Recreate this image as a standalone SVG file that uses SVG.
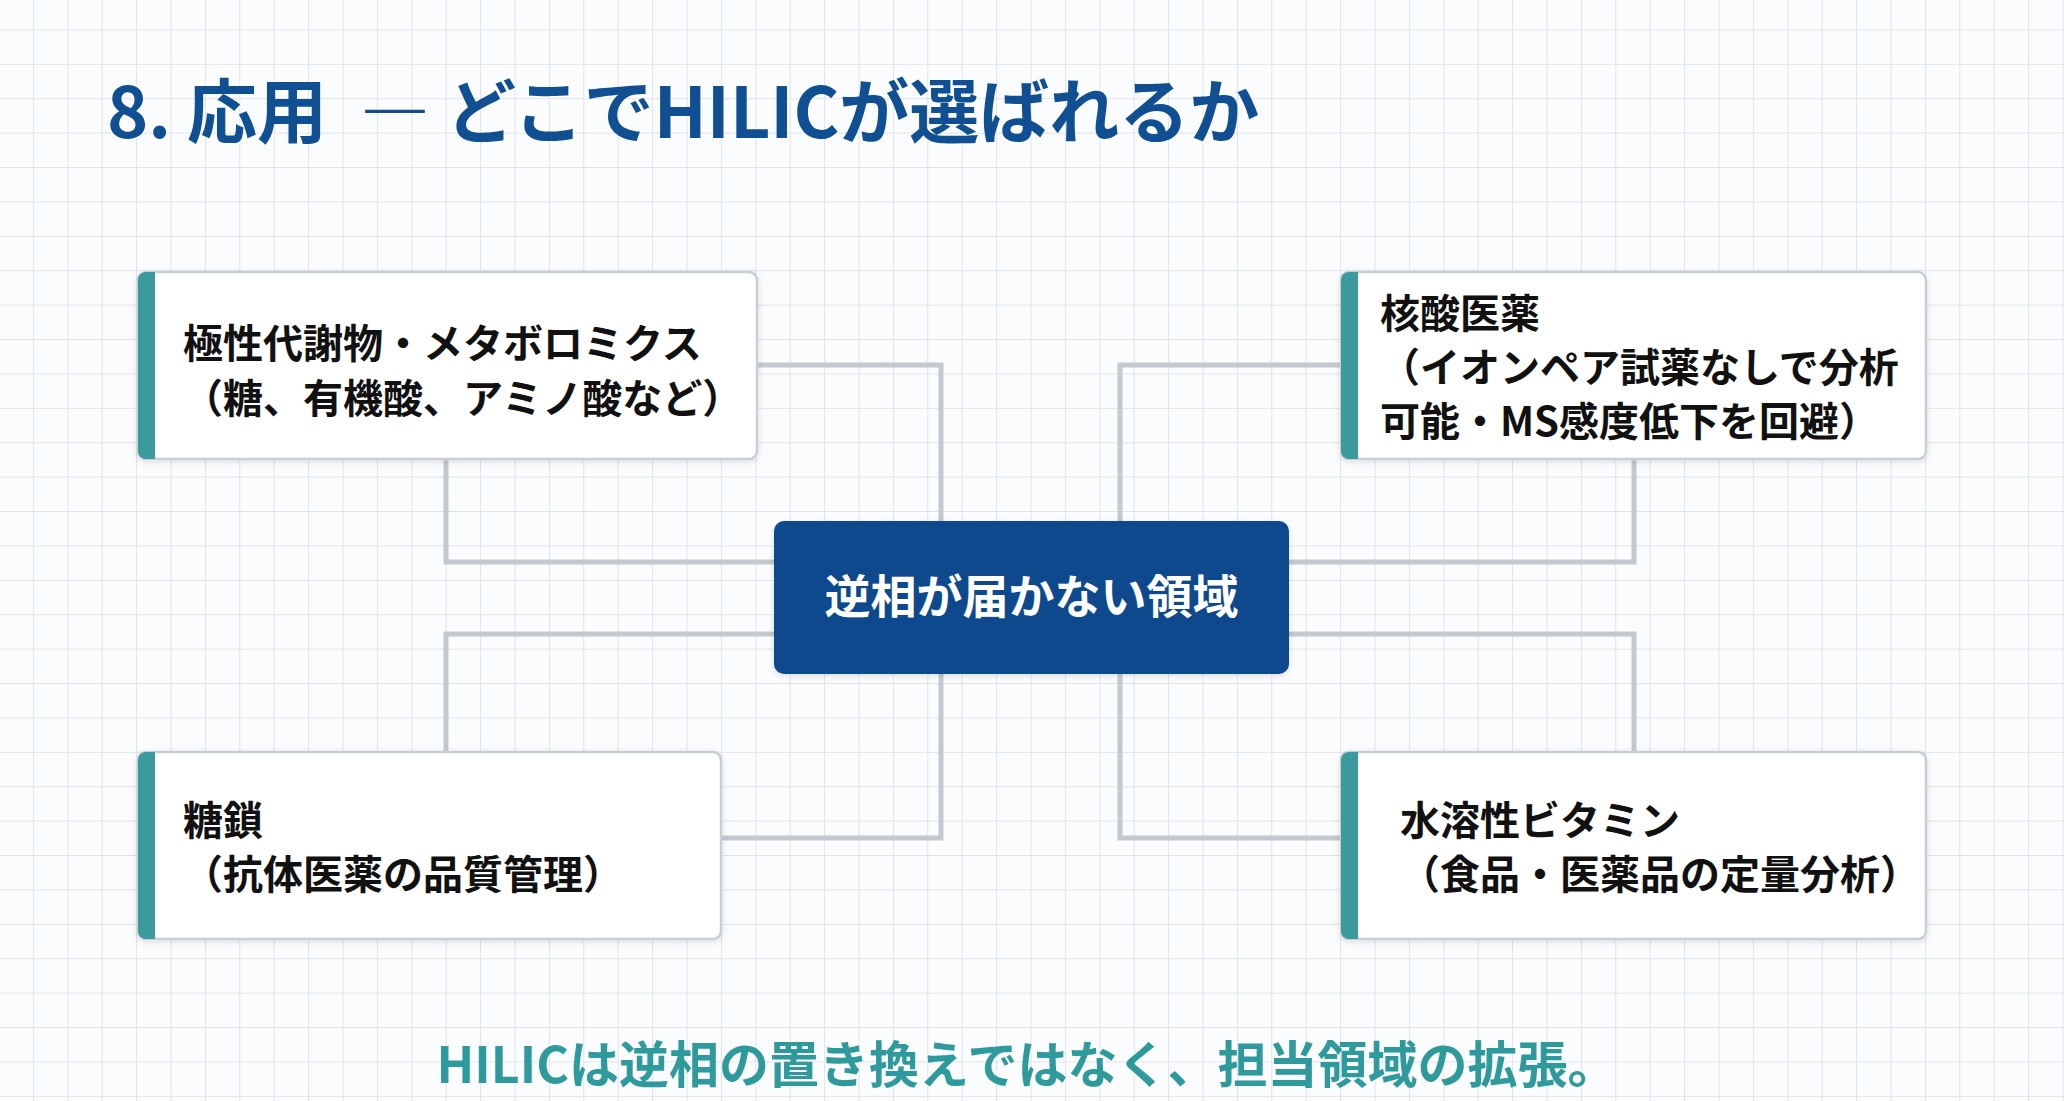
<svg xmlns="http://www.w3.org/2000/svg" width="2064" height="1101" viewBox="0 0 2064 1101">
<defs>
<pattern id="grid" x="-0.5" y="-4" width="34.4" height="34.4" patternUnits="userSpaceOnUse">
<path d="M34.4 0V34.4M0 34.4H34.4" fill="none" stroke="#dfe3e8" stroke-width="2"/>
</pattern>
<filter id="sh" x="-5%" y="-10%" width="110%" height="125%"><feDropShadow dx="0" dy="2" stdDeviation="3" flood-color="#000" flood-opacity="0.12"/></filter>
</defs>
<style>
.t{font-family:"Noto Sans CJK JP","Noto Sans",sans-serif;font-weight:700}
.box{fill:#fff;stroke:#c9ced4;stroke-width:2.5}
.bar{fill:#3a9a9c}
.lbl{font-size:40px;fill:#111}
.c{fill:none;stroke:#c3c9cf;stroke-width:5}
</style>
<rect width="2064" height="1101" fill="#fbfcfd"/>
<rect width="2064" height="1101" fill="url(#grid)"/>
<text class="t" x="107" y="138" font-size="70" fill="#0f4f92">8. 応用 <tspan x="360">― どこでHILICが選ばれるか</tspan></text>
<g id="connectors" class="c">
<path class="c" d="M757 365H941V521"/>
<path class="c" d="M446 459V562H774"/>
<path class="c" d="M1341 365H1120V521"/>
<path class="c" d="M1634 459V562H1289"/>
<path class="c" d="M774 634H446V752"/>
<path class="c" d="M721 838H941V674"/>
<path class="c" d="M1289 634H1634V752"/>
<path class="c" d="M1341 838H1120V674"/>
</g>
<g id="n1"><rect class="box" x="138" y="272" width="619" height="187" rx="8" filter="url(#sh)"/><path class="bar" d="M146 272h9v187h-9a8 8 0 0 1-8-8V280a8 8 0 0 1 8-8z"/>
<text class="t lbl" x="183" y="358">極性代謝物・メタボロミクス</text><text class="t lbl" x="183" y="413">（糖、有機酸、アミノ酸など）</text></g>
<g id="n2"><rect class="box" x="1341" y="272" width="585" height="187" rx="8" filter="url(#sh)"/><path class="bar" d="M1349 272h9v187h-9a8 8 0 0 1-8-8V280a8 8 0 0 1 8-8z"/>
<text class="t lbl" x="1380" y="328">核酸医薬</text><text class="t lbl" x="1380" y="382">（イオンペア試薬なしで分析</text><text class="t lbl" x="1380" y="436">可能・MS感度低下を回避）</text></g>
<g id="n3"><rect class="box" x="138" y="752" width="583" height="187" rx="8" filter="url(#sh)"/><path class="bar" d="M146 752h9v187h-9a8 8 0 0 1-8-8V760a8 8 0 0 1 8-8z"/>
<text class="t lbl" x="183" y="835">糖鎖</text><text class="t lbl" x="183" y="889">（抗体医薬の品質管理）</text></g>
<g id="n4"><rect class="box" x="1341" y="752" width="585" height="187" rx="8" filter="url(#sh)"/><path class="bar" d="M1349 752h9v187h-9a8 8 0 0 1-8-8V760a8 8 0 0 1 8-8z"/>
<text class="t lbl" x="1400" y="835">水溶性ビタミン</text><text class="t lbl" x="1400" y="889">（食品・医薬品の定量分析）</text></g>
<g id="center"><rect x="774" y="521" width="515" height="153" rx="10" fill="#0d4a8c" filter="url(#sh)"/>
<text class="t" x="1031.5" y="613" font-size="46" fill="#fff" text-anchor="middle">逆相が届かない領域</text></g>
<text class="t" x="1027" y="1083" font-size="50" fill="#2f9a9c" text-anchor="middle">HILICは逆相の置き換えではなく、担当領域の拡張。</text>
</svg>
